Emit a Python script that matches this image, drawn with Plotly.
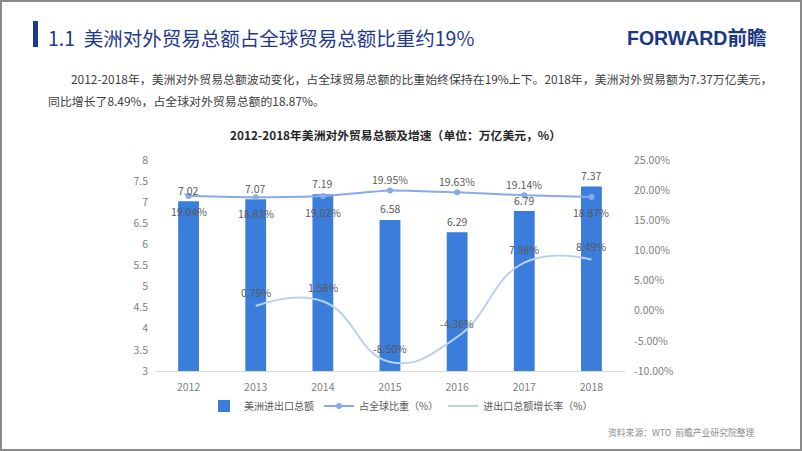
import plotly.graph_objects as go

years = ["2012", "2013", "2014", "2015", "2016", "2017", "2018"]
trade_total = [7.02, 7.07, 7.19, 6.58, 6.29, 6.79, 7.37]
global_share = [19.04, 18.83, 19.02, 19.95, 19.63, 19.14, 18.87]
growth_years = ["2013", "2014", "2015", "2016", "2017", "2018"]
growth_rate = [0.79, 1.58, -8.50, -4.36, 7.98, 8.49]
share_label_below = [True, True, True, False, False, False, True]
left_ticks = [3, 3.5, 4, 4.5, 5, 5.5, 6, 6.5, 7, 7.5, 8]
right_ticks = [-10, -5, 0, 5, 10, 15, 20, 25]

W, H = 802, 451
FONT = "Noto Sans CJK SC"
BAR_C = "#3b7ddb"
SHARE_C = "#86aaea"
GROWTH_C = "#b9d2f3"
LBL_C = "#595959"
TICK_C = "#808080"

fig = go.Figure()

fig.add_trace(go.Bar(
    x=years, y=trade_total, name="美洲进出口总额",
    marker=dict(color=BAR_C), width=0.31,
))
fig.add_trace(go.Scatter(
    x=years, y=global_share, name="占全球比重（%）", yaxis="y2",
    mode="lines+markers", line=dict(color=SHARE_C, width=2, shape="spline", smoothing=0.6),
    marker=dict(size=6, color=SHARE_C),
))
fig.add_trace(go.Scatter(
    x=growth_years, y=growth_rate, name="进出口总额增长率（%）", yaxis="y2",
    mode="lines", line=dict(color=GROWTH_C, width=2, shape="spline", smoothing=1.3),
))

x0, x1 = 155 / W, 625 / W
y0, y1 = 1 - 371 / H, 1 - 160 / H

fig.update_layout(
    template="none",
    width=W, height=H,
    margin=dict(l=0, r=0, t=0, b=0, autoexpand=False),
    paper_bgcolor="white", plot_bgcolor="white",
    font=dict(family=FONT, color=LBL_C),
    xaxis=dict(domain=[x0, x1], type="category", categoryarray=years, range=[-0.5, 6.5],
               automargin=False, showline=True, linecolor="#d9d9d9", linewidth=1,
               showgrid=False, ticks="", tickfont=dict(size=10.5, color=TICK_C),
               ticklabelstandoff=6),
    yaxis=dict(domain=[y0, y1], range=[3, 8], tickvals=left_ticks, automargin=False,
               ticktext=[f"{t:g}" for t in left_ticks],
               showgrid=False, zeroline=False, showline=False, ticks="",
               tickfont=dict(size=10.5, color=TICK_C), ticklabelstandoff=6),
    yaxis2=dict(overlaying="y", side="right", range=[-10, 25], tickvals=right_ticks,
                ticktext=[f"{t:.2f}%" for t in right_ticks], automargin=False,
                showgrid=False, zeroline=False, showline=False, anchor="x", ticks="",
                tickfont=dict(size=10.5, color=TICK_C), ticklabelstandoff=8),
    legend=dict(orientation="h", x=0.5, xanchor="center", y=1 - 406 / H, yanchor="middle",
                font=dict(size=10, color=LBL_C), itemwidth=30, tracegroupgap=0,
                bgcolor="rgba(0,0,0,0)"),
    showlegend=True,
)

shapes = [
    dict(type="rect", xref="paper", yref="paper", x0=0, x1=1, y0=0, y1=1,
         line=dict(color="#8a8a8a", width=4), fillcolor="rgba(0,0,0,0)", layer="above"),
    dict(type="rect", xref="paper", yref="paper", x0=33 / W, x1=38 / W,
         y0=1 - 47 / H, y1=1 - 21 / H, line=dict(width=0), fillcolor="#1f3a8a"),
]
fig.update_layout(shapes=shapes)

def A(text, x, y, xanchor, size, color, family=FONT):
    return dict(text=text, x=x / W, y=1 - y / H, xref="paper", yref="paper",
                xanchor=xanchor, yanchor="middle", showarrow=False,
                font=dict(size=size, color=color, family=family))

ann = [
    A("1.1  美洲对外贸易总额占全球贸易总额比重约19%", 46, 37, "left", 19.5, "#1f3a8a"),
    A("<b>FORWARD前瞻</b>", 768, 38, "right", 19.5, "#1b3784", "Liberation Sans, " + FONT),
    A("2012-2018年，美洲对外贸易总额波动变化，占全球贸易总额的比重始终保持在19%上下。2018年，美洲对外贸易额为7.37万亿美元，",
      69, 78, "left", 11.9, "#404040"),
    A("同比增长了8.49%，占全球对外贸易总额的18.87%。", 46, 101, "left", 11.9, "#404040"),
    A("<b>2012-2018年美洲对外贸易总额及增速（单位：万亿美元，%）</b>", 395, 134, "center", 11.8, "#262626"),
    A("资料来源：WTO  前瞻产业研究院整理", 757, 432, "right", 8.8, "#8c8c8c"),
]

lbl_font = dict(size=10.5, color=LBL_C, family=FONT)
for i, v in enumerate(trade_total):
    ann.append(dict(text=f"{v:.2f}", x=i, y=v, xref="x", yref="y", yshift=11,
                    showarrow=False, yanchor="middle", font=lbl_font))
for i, (v, below) in enumerate(zip(global_share, share_label_below)):
    ann.append(dict(text=f"{v:.2f}%", x=i, y=v, xref="x", yref="y2",
                    yshift=-16 if below else 11,
                    showarrow=False, yanchor="middle", font=lbl_font))
for yr, v in zip(growth_years, growth_rate):
    ann.append(dict(text=f"{v:.2f}%", x=years.index(yr), y=v, xref="x", yref="y2",
                    yshift=13.5, showarrow=False, yanchor="middle", font=lbl_font))

fig.update_layout(annotations=ann)

fig.write_html("out.html", config={"displayModeBar": False},
               post_script="document.body.style.margin='0';document.body.style.padding='0';")
